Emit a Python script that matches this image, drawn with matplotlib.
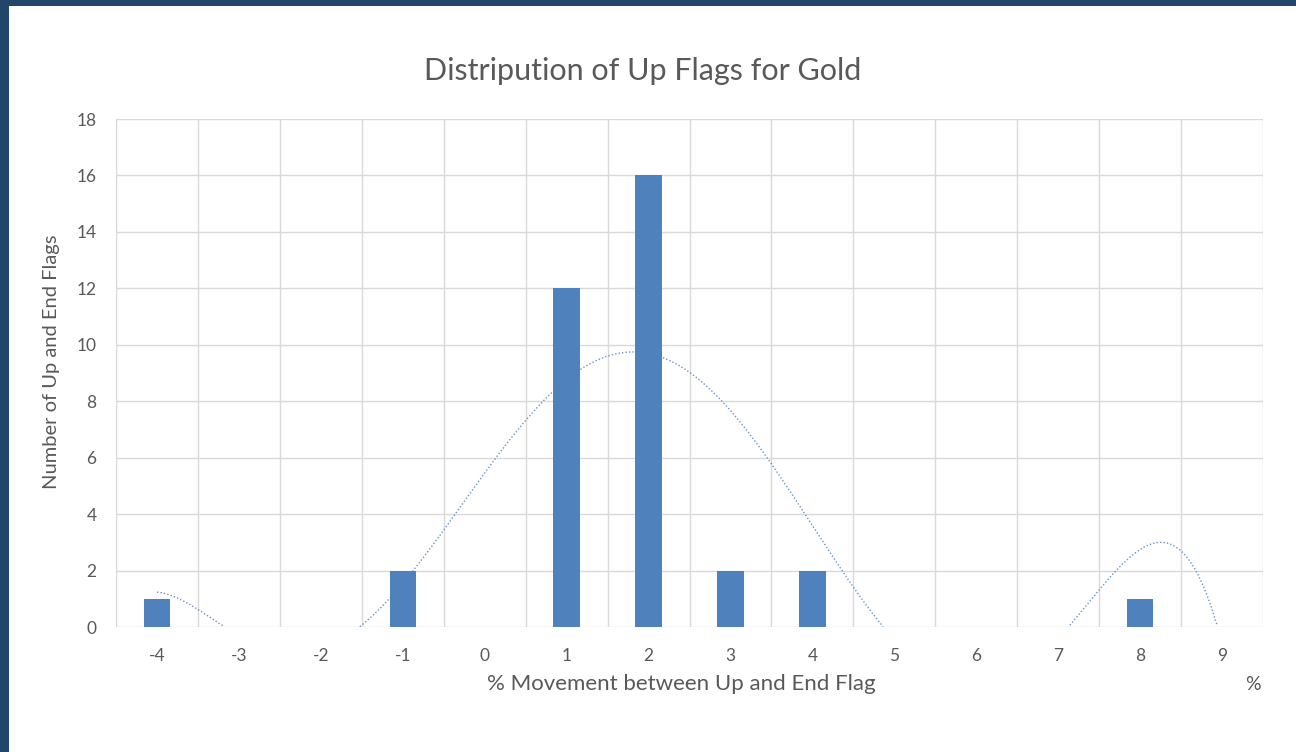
import numpy as np
import matplotlib
matplotlib.use("Agg")
import matplotlib.pyplot as plt
from matplotlib.patches import Rectangle

# % movement buckets and counts of flags
movement = [-4, -3, -2, -1, 0, 1, 2, 3, 4, 5, 6, 7, 8, 9]
flag_count = [1, 0, 0, 2, 0, 12, 16, 2, 2, 0, 0, 0, 1, 0]
trend_order = 6

bar_col = '#4F81BD'
txt_col = '#595959'
grid_col = '#D9D9D9'
plt.rcParams['font.family'] = ['Lato', 'DejaVu Sans']
plt.rcParams['axes.unicode_minus'] = False

fig = plt.figure(figsize=(12.96, 7.52), dpi=100)
fig.patch.set_facecolor('#22456A')
fig.patches.append(Rectangle((9 / 1296, 0), 1, 1 - 6 / 752, transform=fig.transFigure,
                             facecolor='white', edgecolor='none', zorder=-1))

ax = fig.add_axes([116 / 1296, 1 - 627 / 752, (1263 - 116) / 1296, (627 - 119) / 752])
ax.set_zorder(1)
ax.set_facecolor('white')

ax.bar(movement, flag_count, width=0.32, color=bar_col, zorder=3)

# polynomial trendline, like excel does it (negative part hidden under the axis)
coef = np.polyfit(movement, flag_count, trend_order)
xs = np.linspace(movement[0], movement[-1], 400)
ys = np.polyval(coef, xs)
ys = np.where(ys < 0, np.nan, ys)
ax.plot(xs, ys, color=bar_col, lw=1.0, alpha=0.85, linestyle=(0, (1, 1.5)), zorder=4)

ax.set_xlim(movement[0] - 0.5, movement[-1] + 0.5)
ax.set_ylim(0, 18)
ax.set_yticks(range(0, 19, 2))
ax.set_xticks(movement)
ax.set_xticks(np.arange(movement[0] - 0.5, movement[-1] + 1, 1), minor=True)
ax.grid(True, which='minor', axis='x', color=grid_col, lw=1)
ax.grid(True, which='major', axis='y', color=grid_col, lw=1)
ax.set_axisbelow(True)
for s in ax.spines.values():
    s.set_visible(False)
ax.tick_params(which='both', length=0)
ax.tick_params(axis='y', pad=14, labelsize=12.5, labelcolor=txt_col)
ax.tick_params(axis='x', pad=15, labelsize=12.5, labelcolor=txt_col)

fig.text(643 / 1296, 1 - 71 / 752, 'Distripution of Up Flags for Gold', ha='center', va='center',
         fontsize=22, color=txt_col)
fig.text(52 / 1296, 1 - 362 / 752, 'Number of Up and End Flags', ha='center', va='center',
         rotation=90, fontsize=14.5, color=txt_col)
fig.text(681 / 1296, 1 - 684 / 752, '% Movement between Up and End Flag', ha='center', va='center',
         fontsize=16, color=txt_col)
fig.text(1253 / 1296, 1 - 684 / 752, '%', ha='center', va='center', fontsize=14, color=txt_col)

fig.savefig('out.png', dpi=100, facecolor=fig.get_facecolor())
